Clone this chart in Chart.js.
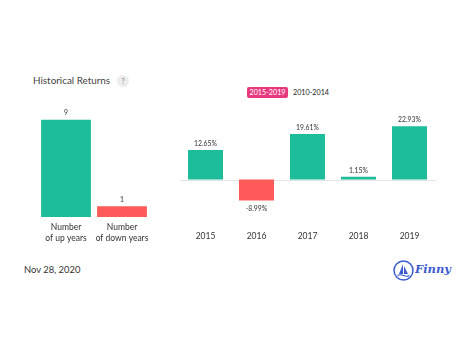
<!DOCTYPE html>
<html>
<head>
<meta charset="utf-8">
<script src="https://cdn.jsdelivr.net/npm/chart.js@4/dist/chart.umd.min.js"></script>
<style>
  html, body { margin: 0; padding: 0; background: #fff; width: 474px; height: 355px; overflow: hidden; font-family: Lato, "Open Sans", sans-serif; }
  .abs { position: absolute; }
  #title { left: 33px; top: 74px; font-size: 9.9px; color: #444; white-space: nowrap; }
  #help { left: 117px; top: 75px; width: 12px; height: 12px; border-radius: 50%; background: #ececec; color: #888; font-size: 7px; text-align: center; line-height: 12px; }
  #btn1 { left: 247px; top: 87px; width: 41px; height: 11px; border-radius: 2px; background: #e8397e; color: #fff; font-size: 7.2px; text-align: center; line-height: 11px; }
  #btn2 { left: 293px; top: 87px; height: 11px; color: #222; font-size: 7.2px; line-height: 11px; }
  #date { left: 24px; top: 264px; font-size: 9.4px; color: #333; }
  #finny { left: 415px; top: 262px; font-size: 11.5px; font-style: italic; font-weight: bold; color: #3c5bd0; font-family: "DejaVu Serif", serif; }
  canvas { position: absolute; }
</style>
</head>
<body>
<div id="title" class="abs">Historical Returns</div>
<div id="help" class="abs">?</div>
<div id="btn1" class="abs">2015-2019</div>
<div id="btn2" class="abs">2010-2014</div>
<div id="date" class="abs">Nov 28, 2020</div>
<svg class="abs" style="left:392px;top:259px" width="24" height="24" viewBox="0 0 24 24">
  <circle cx="11.5" cy="11.5" r="9.5" fill="none" stroke="#3c5bd0" stroke-width="1.5"/>
  <path d="M11 5 L7 15 L11 15 Z" fill="#3c5bd0"/>
  <path d="M12 7 L16 15 L12 15 Z" fill="#3c5bd0"/>
  <path d="M5.5 16.5 Q8 15 11.5 16.5 T17.5 16.5" fill="none" stroke="#3c5bd0" stroke-width="1.2"/>
</svg>
<div id="finny" class="abs">Finny</div>

<div class="abs" style="left:33px;top:100px;width:122px;height:144px"><canvas id="left" width="122" height="144"></canvas></div>
<div class="abs" style="left:175px;top:110px;width:265px;height:133px"><canvas id="right" width="265" height="133"></canvas></div>

<script>
const summaryLabels = [["Number", "of up years"], ["Number", "of down years"]];
const summaryValues = [9, 1];
const years = ["2015", "2016", "2017", "2018", "2019"];
const returns = [12.65, -8.99, 19.61, 1.15, 22.93];

const TEAL = '#1dbc9a';
const RED = '#ff5a5a';
const FONT = 'Lato, "Open Sans", sans-serif';

function valueLabelPlugin(fmt) {
  return {
    id: 'valueLabels',
    afterDatasetsDraw(chart) {
      const ctx = chart.ctx;
      const meta = chart.getDatasetMeta(0);
      const data = chart.data.datasets[0].data;
      ctx.save();
      ctx.font = '6.8px ' + FONT;
      ctx.fillStyle = '#333';
      ctx.textAlign = 'center';
      ctx.textBaseline = 'middle';
      meta.data.forEach((bar, i) => {
        const v = data[i];
        const y = v >= 0 ? bar.y - 6.5 : bar.y + 8;
        ctx.fillText(fmt(v), bar.x, y);
      });
      ctx.restore();
    }
  };
}

const zeroLine = {
  id: 'zeroLine',
  beforeDatasetsDraw(chart) {
    const ctx = chart.ctx;
    const y = Math.round(chart.scales.y.getPixelForValue(0)) + 0.5;
    ctx.save();
    ctx.strokeStyle = '#e4e4e4';
    ctx.lineWidth = 1;
    ctx.beginPath();
    ctx.moveTo(chart.chartArea.left, y);
    ctx.lineTo(chart.chartArea.right + 2, y);
    ctx.stroke();
    ctx.restore();
  }
};

const common = {
  responsive: false,
  animation: false,
  plugins: { legend: { display: false }, tooltip: { enabled: false } },
};

new Chart(document.getElementById('left'), {
  type: 'bar',
  data: {
    labels: summaryLabels,
    datasets: [{ data: summaryValues, backgroundColor: [TEAL, RED], barPercentage: 0.89, categoryPercentage: 1 }]
  },
  options: Object.assign({}, common, {
    layout: { padding: { left: 5, right: 5, top: 9, bottom: 0 } },
    scales: {
      x: {
        grid: { display: false, drawTicks: false },
        border: { display: false },
        afterFit(scale) { scale.height = 27; },
        ticks: { color: '#333', padding: 4.5, maxRotation: 0, minRotation: 0, autoSkip: false, font: { family: FONT, size: 8.5, lineHeight: 1.3 } }
      },
      y: { display: false, min: 0, max: 10 }
    }
  }),
  plugins: [valueLabelPlugin(v => String(v))]
});

new Chart(document.getElementById('right'), {
  type: 'bar',
  data: {
    labels: years,
    datasets: [{ data: returns, backgroundColor: returns.map(v => v >= 0 ? TEAL : RED), barPercentage: 0.686, categoryPercentage: 1 }]
  },
  options: Object.assign({}, common, {
    layout: { padding: { left: 5, right: 5, top: 11.4, bottom: 0 } },
    scales: {
      x: {
        grid: { display: false, drawTicks: false },
        border: { display: false },
        afterFit(scale) { scale.height = 28.6; },
        ticks: { color: '#333', padding: 16, maxRotation: 0, minRotation: 0, font: { family: FONT, size: 8.5, lineHeight: 1.3 } }
      },
      y: { display: false, min: -15, max: 25 }
    }
  }),
  plugins: [zeroLine, valueLabelPlugin(v => v.toFixed(2) + '%')]
});
</script>
</body>
</html>
